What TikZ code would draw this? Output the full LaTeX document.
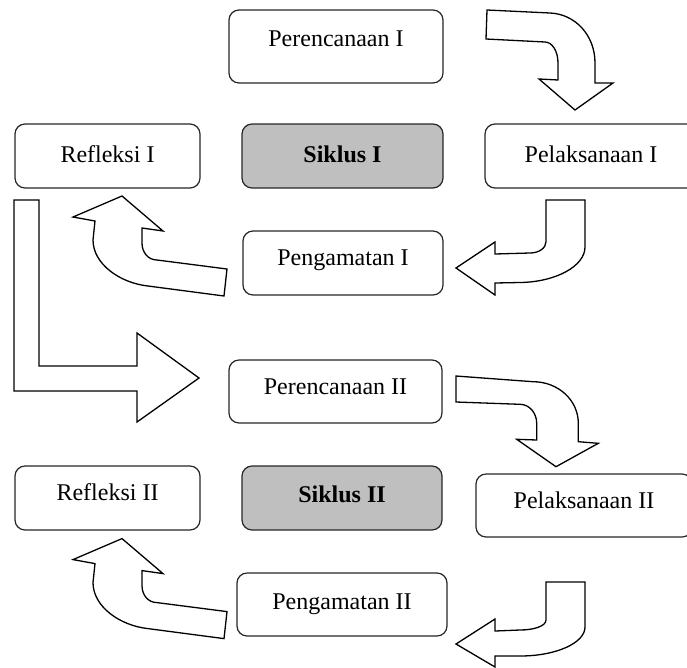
\documentclass[tikz,border=0pt]{standalone}
\usepackage{fontspec}
\setmainfont{Liberation Serif}
\begin{document}
\begin{tikzpicture}[x=1pt,y=-1pt,
  box/.style={draw=black!85, line width=1.2pt, rounded corners=10pt, fill=white,
    font=\fontsize{24}{28}\selectfont, text height=17pt, text depth=5pt, inner sep=0pt},
  cyc/.style={box, fill=gray!50, font=\fontsize{24}{28}\selectfont\bfseries},
  blockarrow/.style={draw=black, line width=1.3pt, fill=white, line join=miter}]
\useasboundingbox (0,0) rectangle (687,667);
\clip (0,0) rectangle (687,667);

% boxes
\node[box, minimum width=214pt, minimum height=73pt, text depth=18pt] (p1) at (336,46.5) {Perencanaan I};
\node[box, minimum width=185pt, minimum height=64pt] (r1) at (107.5,156) {Refleksi I};
\node[cyc, minimum width=201pt, minimum height=64pt] (s1) at (342.5,156) {Siklus I};
\node[box, minimum width=212pt, minimum height=64pt] (l1) at (591,156) {Pelaksanaan I};
\node[box, minimum width=200pt, minimum height=64pt, text depth=12pt] (g1) at (343,263) {Pengamatan I};

\node[box, minimum width=213pt, minimum height=63pt, text depth=11pt] (p2) at (335.5,391.5) {Perencanaan II};
\node[box, minimum width=185pt, minimum height=64pt, text depth=13pt] (r2) at (107.5,498) {Refleksi II};
\node[cyc, minimum width=200pt, minimum height=64pt, text depth=9pt] (s2) at (342,498) {Siklus II};
\node[box, minimum width=216pt, minimum height=63pt, text depth=12pt] (l2) at (584,505.5) {Pelaksanaan II};
\node[box, minimum width=210pt, minimum height=63pt, text depth=8pt] (g2) at (342,604.5) {Pengamatan II};

% arrow: Perencanaan I -> Pelaksanaan I
\draw[blockarrow] (487,10) -- (550,13) .. controls (575,14) and (595,35) .. (595,63)
  -- (595,83) -- (613,83) -- (575,110) -- (539,79) -- (558,80) -- (558,63)
  .. controls (558,51) and (552,42) .. (545,42) -- (486,39) -- cycle;

% arrow: Pelaksanaan I -> Pengamatan I
\draw[blockarrow] (546,200) -- (585,200) -- (585,247) .. controls (585,266) and (556,282) .. (520,282.5)
  -- (495,283) -- (495,295) -- (456,268) -- (495,242) -- (495,254) -- (530,253)
  .. controls (539,253) and (546,248) .. (546,241.7) -- cycle;

% arrows: Pengamatan -> Refleksi (both cycles)
\foreach \dy in {0,342.6}{
\begin{scope}[shift={(0,\dy)}]
\draw[blockarrow] (227,269) -- (224,296) -- (148,286) .. controls (120,283) and (93,264) .. (93,240)
  -- (95,221) -- (73,217) -- (122,196) -- (163,231) -- (142,228) -- (142,243)
  .. controls (142,252.7) and (148.4,260) .. (157,260) -- cycle;
\end{scope}}

% arrow: Refleksi I -> Perencanaan II
\draw[blockarrow] (14,200) -- (39,200) -- (39,366) -- (137,366) -- (137,333) -- (199,378)
  -- (137,422) -- (137,391) -- (14,391) -- cycle;

% arrow: Perencanaan II -> Pelaksanaan II
\draw[blockarrow] (456,376) -- (533,381.7) .. controls (558,381.7) and (578.3,400) .. (578.3,423.3)
  -- (578.3,441.7) -- (598.3,443.3) -- (556,466.7) -- (516.7,439.3) -- (536.7,440) -- (536.7,423.3)
  .. controls (536.7,412.8) and (529.2,404.3) .. (520,404.3) -- (456,402) -- cycle;

% arrow: Pelaksanaan II -> Pengamatan II
\draw[blockarrow] (546,582) -- (585,582) -- (585,627) .. controls (585,643) and (556,656) .. (520,656)
  -- (495,656) -- (495,667) -- (456,644) -- (495,619) -- (495,631) -- (520,630)
  .. controls (534,630) and (546,626) .. (546,620) -- cycle;
\end{tikzpicture}
\end{document}
